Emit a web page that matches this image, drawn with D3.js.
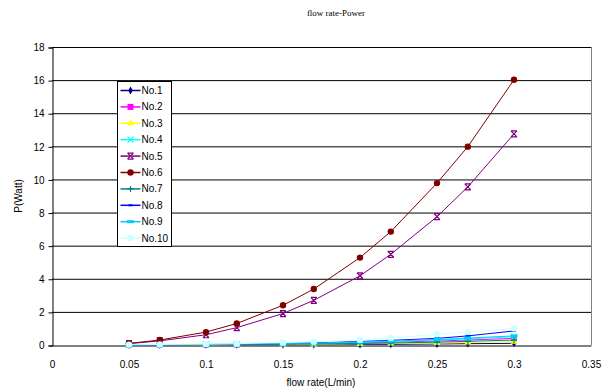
<!DOCTYPE html>
<html>
<head>
<meta charset="utf-8">
<script src="https://cdn.jsdelivr.net/npm/d3@7"></script>
<style>
  body { margin: 0; background: #fff; }
  text { font-family: Arial, "Liberation Sans", sans-serif; }
</style>
</head>
<body>
<div id="chart"></div>
<script>
// flow rate (L/min)
let flowRates = [0.05, 0.07, 0.1, 0.12, 0.15, 0.17, 0.2, 0.22, 0.25, 0.27, 0.3];

let seriesNames = ["No.1", "No.2", "No.3", "No.4", "No.5", "No.6", "No.7", "No.8", "No.9", "No.10"];

// power (W) per sample
let no1  = [0.00, 0.00, 0.01, 0.01, 0.02, 0.02, 0.03, 0.04, 0.06, 0.08, 0.10];
let no2  = [0.01, 0.01, 0.02, 0.03, 0.06, 0.08, 0.13, 0.17, 0.24, 0.30, 0.40];
let no3  = [0.00, 0.01, 0.01, 0.02, 0.03, 0.04, 0.07, 0.09, 0.12, 0.15, 0.20];
let no4  = [0.01, 0.02, 0.03, 0.04, 0.08, 0.10, 0.16, 0.21, 0.30, 0.37, 0.50];
let no5  = [0.08, 0.25, 0.62, 1.05, 1.90, 2.70, 4.18, 5.48, 7.75, 9.55, 12.75];
let no6  = [0.10, 0.30, 0.78, 1.30, 2.40, 3.38, 5.28, 6.85, 9.78, 11.98, 16.02];
let no7  = [0.01, 0.01, 0.02, 0.02, 0.04, 0.06, 0.09, 0.12, 0.17, 0.22, 0.30];
let no8  = [0.01, 0.02, 0.03, 0.05, 0.09, 0.13, 0.21, 0.28, 0.40, 0.55, 0.85];
let no9  = [0.01, 0.02, 0.03, 0.05, 0.09, 0.12, 0.18, 0.24, 0.33, 0.42, 0.55];
let no10 = [0.02, 0.03, 0.06, 0.08, 0.15, 0.20, 0.30, 0.42, 0.65, 0.78, 1.00];

let seriesValues = [no1, no2, no3, no4, no5, no6, no7, no8, no9, no10];

let seriesColors = ["#000080", "#FF00FF", "#FFFF00", "#00FFFF", "#800080",
                    "#800000", "#008080", "#0000FF", "#00CCFF", "#CCFFFF"];
let seriesMarkers = ["diamond", "square", "triangle", "x", "star",
                     "circle", "plus", "dash", "bar", "circle"];

let xTicks = [0, 0.05, 0.1, 0.15, 0.2, 0.25, 0.3, 0.35];
let yTicks = [0, 2, 4, 6, 8, 10, 12, 14, 16, 18];

let width = 613,
    height = 388;

let plot = {left: 52, right: 591, top: 47, bottom: 345};

let svg = d3.select("#chart").append("svg")
    .attr("width", width)
    .attr("height", height);

let x = d3.scaleLinear().domain([0, 0.35]).range([plot.left, plot.right]);
let y = d3.scaleLinear().domain([0, 18]).range([plot.bottom, plot.top]);

// gridlines
svg.append("g")
    .selectAll("line")
    .data(yTicks.filter(d => d > 0))
    .enter().append("line")
    .attr("x1", plot.left)
    .attr("x2", plot.right)
    .attr("y1", d => y(d) + 0.5)
    .attr("y2", d => y(d) + 0.5)
    .attr("stroke", "#000")
    .attr("stroke-width", 1);

// right border of plot area
svg.append("line")
    .attr("x1", plot.right + 0.5).attr("x2", plot.right + 0.5)
    .attr("y1", plot.top).attr("y2", plot.bottom)
    .attr("stroke", "#808080");

// axes
let yAxis = svg.append("g")
    .attr("transform", "translate(" + (plot.left + 0.5) + ",0.5)")
    .call(d3.axisLeft(y).tickValues(yTicks).tickSize(4).tickFormat(d3.format("d")));

let xAxis = svg.append("g")
    .attr("transform", "translate(0," + (plot.bottom + 0.5) + ")")
    .call(d3.axisBottom(x).tickValues(xTicks).tickSize(0).tickPadding(15)
        .tickFormat(d => d === 0 ? "0" : String(d)));

[yAxis, xAxis].forEach(function (a) {
    a.select(".domain").attr("stroke", "#000");
    a.selectAll(".tick line").attr("stroke", "#000");
    a.selectAll("text")
        .attr("fill", "#000")
        .style("font-size", "10px")
        .style("font-family", "Arial, 'Liberation Sans', sans-serif");
});
yAxis.selectAll("text").attr("x", -8);

// marker drawing
function drawMarker(sel, type, color) {
    if (type === "diamond") {
        sel.append("path").attr("d", d3.symbol(d3.symbolDiamond, 18)())
            .attr("fill", color);
    } else if (type === "square") {
        sel.append("rect").attr("x", -3).attr("y", -3).attr("width", 6).attr("height", 6)
            .attr("fill", color);
    } else if (type === "triangle") {
        sel.append("path").attr("d", d3.symbol(d3.symbolTriangle, 22)())
            .attr("fill", color);
    } else if (type === "x") {
        sel.append("path").attr("d", "M-3,-3L3,3M-3,3L3,-3")
            .attr("stroke", color).attr("stroke-width", 1.2);
    } else if (type === "star") {
        sel.append("path").attr("d", "M-3,-3L3,3M-3,3L3,-3M-3,-3L3,-3M-3,3L3,3")
            .attr("stroke", color).attr("stroke-width", 1.2);
    } else if (type === "circle") {
        sel.append("circle").attr("r", 3.2).attr("fill", color);
    } else if (type === "plus") {
        sel.append("path").attr("d", "M-3,0L3,0M0,-3L0,3")
            .attr("stroke", color).attr("stroke-width", 1.2);
    } else if (type === "dash") {
        sel.append("path").attr("d", "M-2,0L2,0")
            .attr("stroke", color).attr("stroke-width", 2);
    } else if (type === "bar") {
        sel.append("rect").attr("x", -3.5).attr("y", -1.5).attr("width", 7).attr("height", 3)
            .attr("fill", color);
    }
}

let line = d3.line()
    .x((d, i) => x(flowRates[i]))
    .y(d => y(d));

// series lines + markers
seriesValues.forEach(function (vals, k) {
    let g = svg.append("g").attr("class", "series");
    g.append("path")
        .attr("d", line(vals))
        .attr("fill", "none")
        .attr("stroke", seriesColors[k])
        .attr("stroke-width", 1);
    g.selectAll("g.pt")
        .data(vals)
        .enter().append("g")
        .attr("class", "pt")
        .attr("transform", (d, i) => "translate(" + x(flowRates[i]) + "," + y(d) + ")")
        .each(function () {
            drawMarker(d3.select(this), seriesMarkers[k], seriesColors[k]);
        });
});

// legend
let legend = svg.append("g").attr("transform", "translate(117.5,81.5)");
legend.append("rect")
    .attr("width", 54)
    .attr("height", 165)
    .attr("fill", "#fff")
    .attr("stroke", "#000");

seriesNames.forEach(function (name, k) {
    let row = legend.append("g").attr("transform", "translate(0," + (9 + k * 16.4) + ")");
    row.append("line")
        .attr("x1", 3).attr("x2", 23)
        .attr("stroke", seriesColors[k]).attr("stroke-width", 1.5);
    let m = row.append("g").attr("transform", "translate(13,0)");
    drawMarker(m, seriesMarkers[k], seriesColors[k]);
    row.append("text")
        .attr("x", 24)
        .attr("y", 3.5)
        .style("font-size", "10px")
        .text(name);
});

// titles
svg.append("text")
    .attr("x", 336)
    .attr("y", 16)
    .attr("text-anchor", "middle")
    .style("font-family", "'Liberation Serif', 'Times New Roman', serif")
    .style("font-size", "9px")
    .text("flow rate-Power");

svg.append("text")
    .attr("x", 321)
    .attr("y", 386)
    .attr("text-anchor", "middle")
    .style("font-size", "10px")
    .text("flow rate(L/min)");

svg.append("text")
    .attr("transform", "translate(22,196) rotate(-90)")
    .attr("text-anchor", "middle")
    .style("font-size", "10px")
    .text("P(Watt)");
</script>
</body>
</html>
